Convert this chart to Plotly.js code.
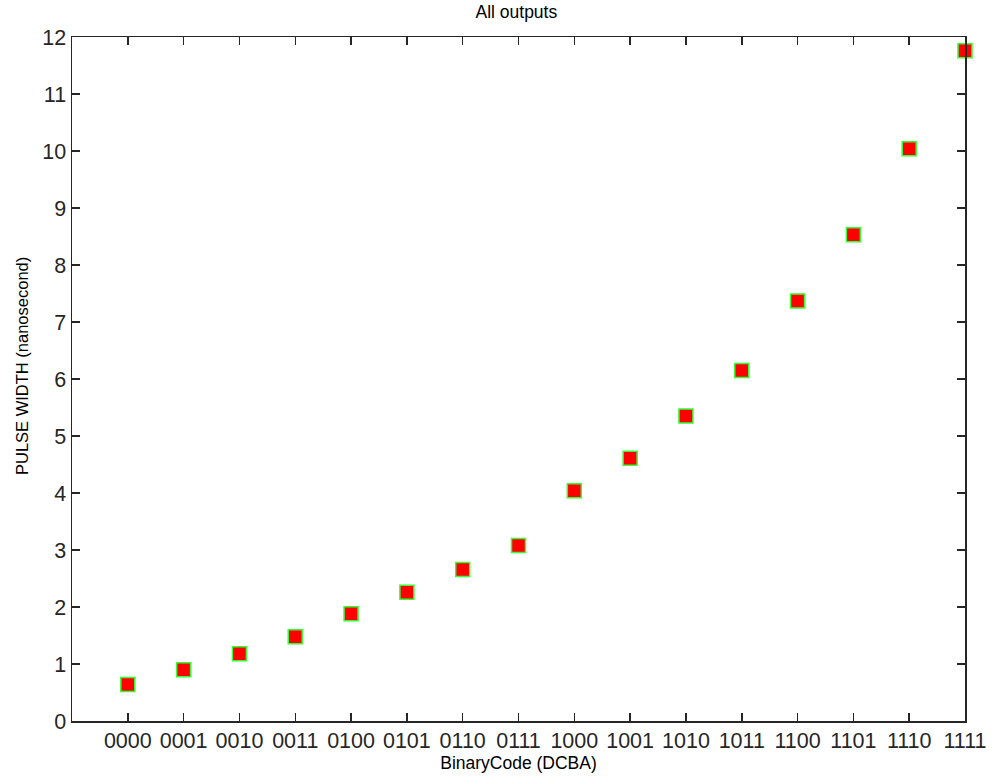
<!DOCTYPE html>
<html>
<head>
<meta charset="utf-8">
<script src="https://cdn.plot.ly/plotly-3.0.1.min.js"></script>
<style>html,body{margin:0;padding:0;background:#fff;}#chart{width:993px;height:778px;}</style>
</head>
<body>
<div id="chart"></div>
<script>
const codes = ["0000","0001","0010","0011","0100","0101","0110","0111","1000","1001","1010","1011","1100","1101","1110","1111"];
const positions = [0,1,2,3,4,5,6,7,8,9,10,11,12,13,14,15];
const pulseWidth = [0.64,0.90,1.18,1.48,1.88,2.26,2.66,3.08,4.04,4.61,5.35,6.15,7.37,8.53,10.04,11.76];
const yTicks = [0,1,2,3,4,5,6,7,8,9,10,11,12];

const font = "Liberation Sans, Arial, sans-serif";
const trace = {
  x: positions, y: pulseWidth, type: "scatter", mode: "markers",
  cliponaxis: false,
  marker: {symbol: "square", size: 14, color: "#ff0000", line: {color: "#33ff33", width: 1.5}},
  hoverinfo: "skip"
};
const axisCommon = {
  showgrid: false, zeroline: false, showline: true, linecolor: "#262626", linewidth: 1.5,
  mirror: "ticks", ticks: "inside", ticklen: 8, tickwidth: 1.5, tickcolor: "#262626",
  tickfont: {family: font, size: 21.5, color: "#262626"}
};
const layout = {
  width: 993, height: 778,
  margin: {l: 72, r: 28, t: 37, b: 57},
  paper_bgcolor: "#ffffff", plot_bgcolor: "#ffffff",
  showlegend: false,
  title: {text: "All outputs", font: {family: font, size: 17.5, color: "#000"}, x: 0.52, xanchor: "center", y: 0.992, yanchor: "top"},
  xaxis: Object.assign({}, axisCommon, {
    range: [-1, 15], tickmode: "array", tickvals: positions, ticktext: codes,
    title: {text: "BinaryCode (DCBA)", font: {family: font, size: 17.5, color: "#000"}, standoff: 2}
  }),
  yaxis: Object.assign({}, axisCommon, {
    range: [0, 12], tickmode: "array", tickvals: yTicks, ticktext: yTicks.map(String)
  }),
  annotations: [{
    text: "PULSE WIDTH (nanosecond)", textangle: -90, showarrow: false,
    xref: "paper", yref: "paper", x: -0.056, y: 0.519, xanchor: "center", yanchor: "middle",
    font: {family: font, size: 16.5, color: "#000"}
  }]
};
Plotly.newPlot("chart", [trace], layout, {staticPlot: true});
</script>
</body>
</html>
